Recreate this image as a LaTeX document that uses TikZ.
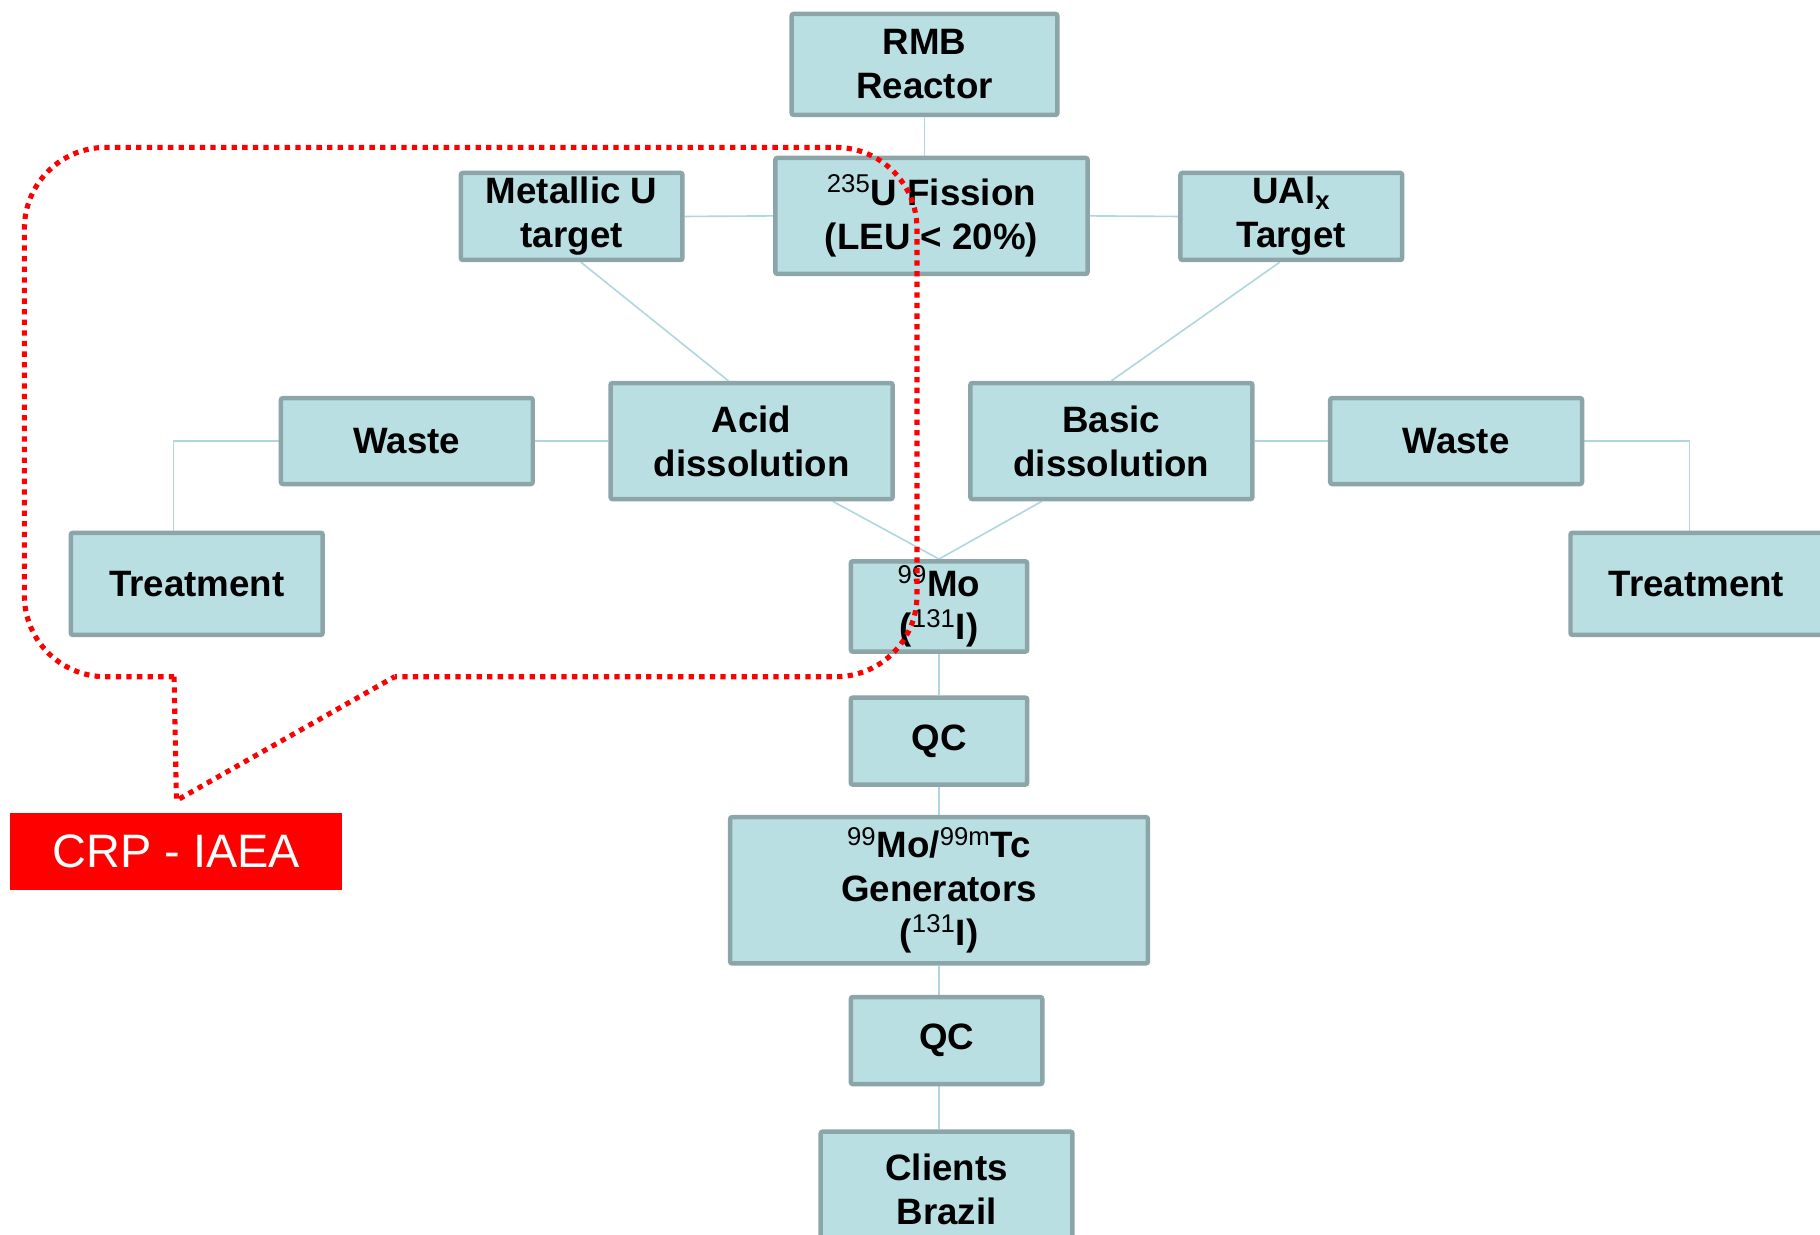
\documentclass[tikz,border=0pt]{standalone}
\usepackage{fontspec}
\setmainfont{Liberation Sans}
\usetikzlibrary{calc, backgrounds}
\definecolor{boxfill}{HTML}{BADFE3}
\definecolor{boxline}{HTML}{8BA5A8}
\definecolor{linkline}{HTML}{B0D8DC}
\definecolor{crpred}{HTML}{FF0000}
\newcommand{\nuc}[1]{\textsuperscript{\mdseries#1}}
\tikzset{
  stage/.style   = {draw=boxline, fill=boxfill, line width=2.2pt, rounded corners=1pt,
                    align=center, font=\fontsize{18}{21.5}\selectfont\bfseries, inner sep=2pt},
  link/.style    = {draw=linkline, line width=0.8pt},
  callout/.style = {draw=crpred, line width=2.5pt, dash pattern=on 2.6pt off 2.6pt},
  tag/.style     = {fill=crpred, text=white, font=\fontsize{23}{27}\selectfont, inner sep=0pt}
}

\begin{document}
\begin{tikzpicture}[x=0.02cm, y=-0.02cm]
\useasboundingbox (0,0) rectangle (1568,1064);
\clip (0,0) rectangle (1568,1064);

\node[stage, minimum width=4.58cm, minimum height=1.74cm] at ( 796.5,  55.5) (rmb)    {RMB\\Reactor};
\node[stage, minimum width=5.38cm, minimum height=2.0cm ] at ( 802.5, 186  ) (fis)    {\nuc{235}U Fission\\(LEU < 20\%)};
\node[stage, minimum width=3.82cm, minimum height=1.5cm ] at ( 492.5, 186.5) (met)    {Metallic U\\target};
\node[stage, minimum width=3.82cm, minimum height=1.5cm ] at (1112.5, 186.5) (ual)    {UAl\textsubscript{x}\\Target};
\node[stage, minimum width=4.34cm, minimum height=1.48cm] at ( 350.5, 380  ) (wasteL) {Waste};
\node[stage, minimum width=4.86cm, minimum height=2.0cm ] at ( 647.5, 380  ) (acid)   {Acid\\dissolution};
\node[stage, minimum width=4.86cm, minimum height=2.0cm ] at ( 957.5, 380  ) (basic)  {Basic\\dissolution};
\node[stage, minimum width=4.34cm, minimum height=1.48cm] at (1254.5, 380  ) (wasteR) {Waste};
\node[stage, minimum width=4.34cm, minimum height=1.76cm] at ( 169.5, 503  ) (treatL) {Treatment};
\node[stage, minimum width=4.34cm, minimum height=1.76cm] at (1461.5, 503  ) (treatR) {Treatment};
\node[stage, minimum width=3.04cm, minimum height=1.5cm ] at ( 809  , 522.5) (mo)     {\nuc{99}Mo\\(\nuc{131}I)};
\node[stage, minimum width=3.04cm, minimum height=1.5cm ] at ( 809  , 638.5) (qc1)    {QC};
\node[stage, minimum width=7.2cm,  minimum height=2.52cm] at ( 809  , 767  ) (gen)    {\nuc{99}Mo/\nuc{99m}Tc\\Generators\\(\nuc{131}I)};
\node[stage, minimum width=3.3cm,  minimum height=1.5cm ] at ( 815.5, 896.5) (qc2)    {QC};
\node[stage, minimum width=4.34cm, minimum height=2.0cm ] at ( 815.5,1025  ) (cli)    {Clients\\Brazil};
\node[tag,   minimum width=5.72cm, minimum height=1.34cm] at ( 152  , 733.5) (crp)    {CRP - IAEA};

\begin{scope}[on background layer]
\draw[link] (rmb.south) -- (rmb.south |- fis.north);
\draw[link] (met.east) -- (fis.west);
\draw[link] (fis.east) -- (ual.west);
\draw[link] ($(met.south)+(8,0)$) -- ($(acid.north)+(-20,0)$);
\draw[link] ($(ual.south)+(-10,0)$) -- (basic.north);
\draw[link] (acid.west) -- (wasteL.east);
\draw[link] (basic.east) -- (wasteR.west);
\draw[link] (wasteL.west) -| ($(treatL.north)+(-20,0)$);
\draw[link] (wasteR.east) -| ($(treatR.north)+(-6,0)$);
\draw[link] ($(acid.south)+(70,0)$) -- (mo.north);
\draw[link] ($(basic.south)+(-60,0)$) -- (mo.north);
\draw[link] (mo.south) -- (qc1.north);
\draw[link] (qc1.south) -- (gen.north);
\draw[link] (gen.south) -- (gen.south |- qc2.north);
\draw[link] (gen.south |- qc2.south) -- (gen.south |- cli.north);
\end{scope}

% CRP scope
\coordinate (tip) at ($(crp.north)+(0,-10)$);
\draw[callout, rounded corners=1.4cm] (150,583) -- (21,583) -- (21,127) -- (790,127) -- (790,583) -- (340,583);
\draw[callout] (150,583) -- (tip) -- (340,583);
\end{tikzpicture}
\end{document}
